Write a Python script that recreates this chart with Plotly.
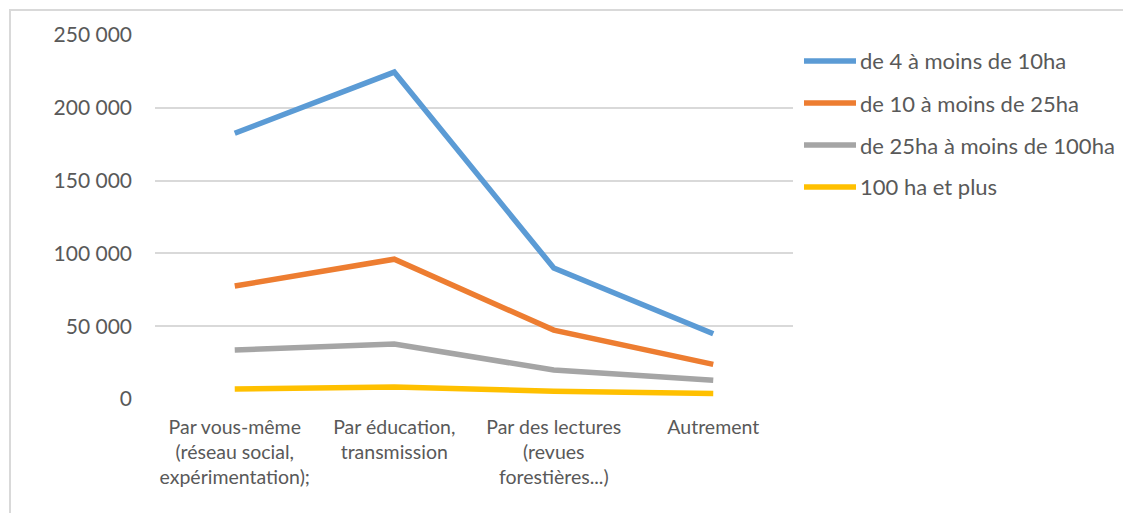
import plotly.graph_objects as go

categories = [
    "Par vous-même<br>(réseau social,<br>expérimentation);",
    "Par éducation,<br>transmission",
    "Par des lectures<br>(revues<br>forestières...)",
    "Autrement",
]
series_names = [
    "de 4 à moins de 10ha",
    "de 10 à moins de 25ha",
    "de 25ha à moins de 100ha",
    "100 ha et plus",
]
s_4_10 = [182500, 224500, 90000, 44800]
s_10_25 = [77600, 96000, 47300, 23800]
s_25_100 = [33600, 37800, 19900, 12800]
s_100p = [6900, 8200, 5400, 3800]
colors = ["#5B9BD5", "#ED7D31", "#A5A5A5", "#FFC000"]
y_ticks = [0, 50000, 100000, 150000, 200000, 250000]
y_tick_labels = ["0", "50 000", "100 000", "150 000", "200 000", "250 000"]

W, H = 1131, 513
OFF = 8  # page body offset
L, R = 155 - OFF, 793 - OFF   # plot area pixel bounds (figure coords)
T, B = 35 - OFF, 399 - OFF

fig = go.Figure()
for name, vals, col in zip(series_names, [s_4_10, s_10_25, s_25_100, s_100p], colors):
    fig.add_trace(go.Scatter(x=categories, y=vals, mode="lines", name=name,
                             line=dict(color=col, width=5.5), showlegend=False))

def px_x(p):
    return (p - OFF - L) / (R - L)

def px_y(p):
    return (B - (p - OFF)) / (B - T)

shapes = []
annotations = []
# outer frame
shapes.append(dict(type="rect", xref="paper", yref="paper",
                   x0=px_x(10), x1=px_x(1150), y0=px_y(10), y1=px_y(540),
                   line=dict(color="#D9D9D9", width=2), fillcolor="rgba(0,0,0,0)", layer="below"))
# manual legend
leg_y = [61, 103, 145, 187]
for name, col, yy in zip(series_names, colors, leg_y):
    shapes.append(dict(type="line", xref="paper", yref="paper",
                       x0=px_x(804), x1=px_x(856), y0=px_y(yy), y1=px_y(yy),
                       line=dict(color=col, width=5.5)))
    annotations.append(dict(xref="paper", yref="paper", x=px_x(858), y=px_y(yy),
                            text=name, showarrow=False, xanchor="left", yanchor="middle",
                            font=dict(family="Lato", size=22, color="#595959")))

fig.update_layout(
    width=W, height=H,
    margin=dict(l=L, r=W - R, t=T, b=H - B),
    paper_bgcolor="white", plot_bgcolor="white",
    font=dict(family="Lato", size=20, color="#595959"),
    shapes=shapes, annotations=annotations,
    xaxis=dict(type="category", range=[-0.5, 3.5], showgrid=False, zeroline=False,
               showline=False, ticks="", tickfont=dict(size=19.5), ticklabelstandoff=14),
    yaxis=dict(range=[0, 250000], tickvals=y_ticks, ticktext=y_tick_labels,
               showgrid=True, gridcolor="#D9D9D9", gridwidth=2, zeroline=False,
               showline=False, ticks="", tickfont=dict(size=21), ticklabelstandoff=22),
)

fig.write_html("out.html")
